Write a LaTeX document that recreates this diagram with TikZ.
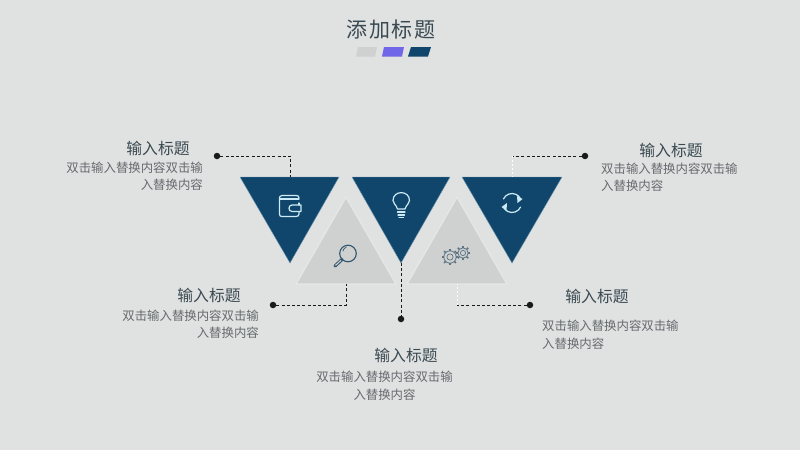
\documentclass[tikz,border=0pt]{standalone}
\usepackage{fontspec}
\usetikzlibrary{calc}
\setmainfont{Noto Sans CJK SC}
\definecolor{bgc}{HTML}{E0E1E1}
\definecolor{navy}{HTML}{10466B}
\definecolor{tri}{HTML}{CFD0D0}
\definecolor{halo}{HTML}{E4E5E5}
\definecolor{purp}{HTML}{6F66E8}
\definecolor{ico}{HTML}{CDEBF5}
\definecolor{icod}{HTML}{33566C}
\definecolor{gearc}{HTML}{5C7484}
\definecolor{headc}{HTML}{3A4A52}
\definecolor{bodyc}{HTML}{666B6E}
\definecolor{dotc}{HTML}{1A1A1A}
\tikzset{
  navytri/.style={fill=navy,draw=ico!50!navy,line width=.4},
  graytri/.style={fill=tri,draw=halo,line width=1.5,line join=miter},
  head/.style={text=headc,font=\fontsize{15.8}{18}\selectfont,inner sep=0},
  body/.style={text=bodyc,font=\fontsize{12.4}{17.5}\selectfont,inner sep=0},
  connl/.style={draw=dotc,dash pattern=on 3 off 2.2,line width=1},
  connw/.style={draw=white!92!bgc,dash pattern=on 2 off 2,line width=1},
  blob/.style={circle,fill=dotc,inner sep=0,minimum size=6.5},
  iconl/.style={draw=ico,line width=1.2,line cap=round,line join=round},
  icond/.style={draw=icod,line width=1.1,line cap=round,line join=round}
}
\begin{document}
\begin{tikzpicture}[x=1pt,y=-1pt]
\useasboundingbox[fill=bgc] (0,0) rectangle (800,450);

% title
\node[text=headc,font=\fontsize{21}{24}\selectfont,inner sep=0] (title) at (391,30)
  {添\hspace{1.6pt}加\hspace{1.6pt}标\hspace{1.6pt}题};
\fill[tri] (358,47) -- (377,47) -- (375,56.5) -- (356,56.5) -- cycle;
\fill[purp] (384,47) -- (404,47) -- (402,56.5) -- (382,56.5) -- cycle;
\fill[navy] (411,47) -- (431,47) -- (428,56.5) -- (408,56.5) -- cycle;

% triangles
\path[graytri] (296,284) -- (396,284) -- (346,197) -- cycle;
\path[graytri] (407,284) -- (507,284) -- (457,197) -- cycle;
\coordinate (g1b) at (346,284);
\coordinate (g2b) at (457,284);
\path[navytri] (240,177) -- (339,177) -- (290,263) -- cycle;
\path[navytri] (352,177) -- (450,177) -- (401,263) -- cycle;
\path[navytri] (462,177) -- (562,177) -- (512,263) -- cycle;
\coordinate (d1t) at (290,177);
\coordinate (d2b) at (401,263);
\coordinate (d3t) at (512,177);

% dots
\node[blob] (p1) at (217,156) {};
\node[blob] (p2) at (273,305) {};
\node[blob] (p3) at (401,319) {};
\node[blob] (p4) at (530,305) {};
\node[blob] (p5) at (585,156) {};

% connectors
\draw[connl] (p1) -| (d1t);
\draw[connl] (p2) -| (g1b);
\draw[connl] (d2b) -- (p3);
\draw[connl] (p4) -- (457,305) coordinate (c4);
\draw[connw] (c4) -- (g2b);
\draw[connl] (p5) -- (512,156) coordinate (c5);
\draw[connw] (c5) -- (d3t);

% wallet icon
\draw[iconl] (299,198) .. controls (299,196) and (298,195.5) .. (296,195.5) -- (282,195.5)
  .. controls (280,195.5) and (279.5,197) .. (279.5,198) -- (279.5,214)
  .. controls (279.5,216) and (280.5,216.5) .. (282,216.5) -- (296,216.5)
  .. controls (298,216.5) and (299,215.5) .. (299,214) -- (299,212);
\draw[iconl] (279.5,199) -- (299,199);
\draw[iconl] (299,205) -- (299,203);
\draw[iconl] (299,205) -- (301,205) -- (301,211.5) -- (292,211.5)
  .. controls (288,211.5) and (288,205) .. (292,205) -- cycle;

% bulb icon
\draw[iconl] (397.5,209) .. controls (396,204) and (393,204) .. (393,200.5)
  .. controls (393,190) and (409.5,190) .. (409.5,200.5)
  .. controls (409.5,204) and (406.5,204) .. (405,209) -- cycle;
\draw[iconl] (397.5,212) -- (405,212);
\draw[iconl] (398,215) -- (404.5,215);
\draw[iconl] (399,217.5) -- (403.5,217.5);

% refresh icon
\draw[iconl] (503.4,199) arc[start angle=205,end angle=328,radius=9.5];
\draw[iconl] (520.6,207) arc[start angle=25,end angle=148,radius=9.5];
\fill[ico] (517,196) -- (522.5,199) -- (517.5,203) -- cycle;
\fill[ico] (507,203) -- (501.5,207) -- (506.5,210.5) -- cycle;

% magnifier icon
\draw[icond] (348,253.5) circle[radius=8.3];
\draw[icond,line width=3.2] (342,259.5) -- (335,266);
\draw[draw=tri,line width=1.1] (341,260.3) -- (335.5,265.4);
\draw[icond,line width=.7] (343,251) arc[start angle=190,end angle=250,radius=5];

% gear icons
\foreach \cx/\cy/\rr in {450/257/6.2, 463/253/5.2}{
  \foreach \a in {0,45,...,315}{
    \draw[draw=gearc,line width=1.5] ($(\cx,\cy)+(\a:\rr+.2)$) -- ($(\cx,\cy)+(\a:\rr+2.2)$);
  }
  \draw[draw=gearc,line width=.8] (\cx,\cy) circle[radius=\rr];
  \draw[draw=gearc,line width=.7] (\cx,\cy) circle[radius=\rr*.5];
}

% labels
\node[head] (h1) at (158,148) {输入标题};
\node[body,align=right,anchor=north east] (b1) at (203,161.5) {双击输入替换内容双击输\\入替换内容};
\node[head] (h2) at (209,295) {输入标题};
\node[body,align=right,anchor=north east] (b2) at (259,309.5) {双击输入替换内容双击输\\入替换内容};
\node[head] (h3) at (406,355) {输入标题};
\node[body,align=center,anchor=north] (b3) at (384.5,371) {双击输入替换内容双击输\\入替换内容};
\node[head] (h4) at (597,296) {输入标题};
\node[body,align=left,anchor=north west] (b4) at (542,320) {双击输入替换内容双击输\\入替换内容};
\node[head] (h5) at (671,150) {输入标题};
\node[body,align=left,anchor=north west] (b5) at (601,162.5) {双击输入替换内容双击输\\入替换内容};
\end{tikzpicture}
\end{document}
